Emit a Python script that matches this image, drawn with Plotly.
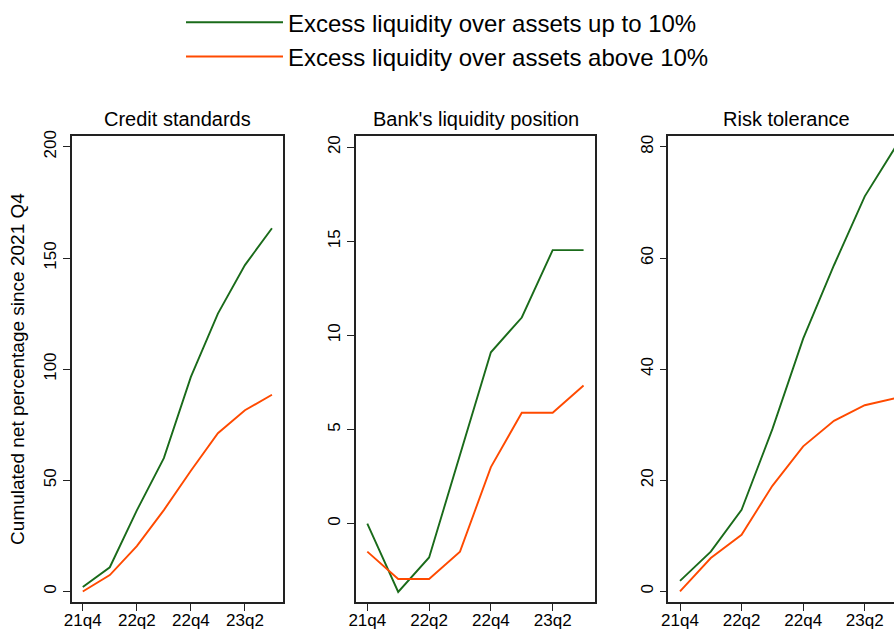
import plotly.graph_objects as go

quarters = ["21q4", "22q1", "22q2", "22q3", "22q4", "23q1", "23q2", "23q3"]
tick_quarters = ["21q4", "22q2", "22q4", "23q2"]

panel_titles = ["Credit standards", "Bank's liquidity position", "Risk tolerance"]
series_names = ["Excess liquidity over assets up to 10%",
                "Excess liquidity over assets above 10%"]

# Credit standards
credit_low = [2.0, 10.9, 36.5, 60.0, 96.5, 125.0, 146.8, 163.4]
credit_high = [0.0, 7.4, 20.4, 36.6, 54.3, 71.2, 81.5, 88.5]
# Bank's liquidity position
liq_low = [0.0, -3.63, -1.8, 3.6, 9.1, 10.95, 14.53, 14.53]
liq_high = [-1.49, -2.94, -2.94, -1.49, 3.0, 5.89, 5.89, 7.34]
# Risk tolerance
risk_low = [1.9, 7.15, 14.7, 29.2, 45.5, 58.7, 71.1, 80.0]
risk_high = [0.0, 6.0, 10.2, 19.0, 26.1, 30.7, 33.5, 34.8]

y_ticks = [[0, 50, 100, 150, 200], [0, 5, 10, 15, 20], [0, 20, 40, 60, 80]]

GREEN = "#1a6b1a"
ORANGE = "#ff4a00"
FONT = "Liberation Sans, Arial, sans-serif"
W, H = 894, 636

fig = go.Figure()

panels = [(credit_low, credit_high), (liq_low, liq_high), (risk_low, risk_high)]
for i, (low, high) in enumerate(panels):
    ax = "" if i == 0 else str(i + 1)
    fig.add_trace(go.Scatter(x=quarters, y=low, mode="lines", name=series_names[0],
                             line=dict(color=GREEN, width=1.9), legendgroup="g",
                             showlegend=(i == 0), xaxis="x" + ax, yaxis="y" + ax))
    fig.add_trace(go.Scatter(x=quarters, y=high, mode="lines", name=series_names[1],
                             line=dict(color=ORANGE, width=1.9), legendgroup="g",
                             showlegend=(i == 0), xaxis="x" + ax, yaxis="y" + ax))

# pixel geometry of the three panels
x_doms = [(71.7, 283.3), (356, 595), (668.3, 894)]
x_ranges = [(-0.41, 7.42), (-0.366, 7.37), (-0.38, 6.95)]
y_ranges = [(-4.86, 205.1), (-4.18, 20.62), (-1.96, 82.05)]
y_dom = [(H - 601.7) / H, (H - 126.7) / H]

axis_style = dict(showline=True, linecolor="#222", linewidth=1.5, ticks="outside",
                  ticklen=7, tickwidth=1.3, tickcolor="#222", showgrid=False,
                  zeroline=False, automargin=False,
                  tickfont=dict(family=FONT, size=17, color="black"))

for i in range(3):
    ax = "" if i == 0 else str(i + 1)
    fig.layout["xaxis" + ax] = dict(
        axis_style, domain=[x_doms[i][0] / W, x_doms[i][1] / W], anchor="y" + ax,
        range=list(x_ranges[i]), tickvals=tick_quarters, mirror=True,
        categoryorder="array", categoryarray=quarters, ticklabelstandoff=-5)
    fig.layout["yaxis" + ax] = dict(
        axis_style, domain=y_dom, anchor="x" + ax, range=list(y_ranges[i]),
        tickvals=y_ticks[i], tickangle=-90, mirror=(i < 2))
    cx = (x_doms[i][0] + x_doms[i][1]) / 2 if i < 2 else 786
    fig.add_annotation(text=panel_titles[i], x=cx / W, y=(H - 110) / H,
                       xref="paper", yref="paper", showarrow=False,
                       xanchor="center", yanchor="middle",
                       font=dict(family=FONT, size=20, color="black"))

fig.add_annotation(text="Cumulated net percentage since 2021 Q4", textangle=-90,
                   x=18 / W, y=(y_dom[0] + y_dom[1]) / 2, xref="paper", yref="paper",
                   showarrow=False, xanchor="center", yanchor="middle",
                   font=dict(family=FONT, size=19, color="black"))

fig.update_layout(
    width=W, height=H,
    margin=dict(l=0, r=0, t=0, b=0),
    paper_bgcolor="white", plot_bgcolor="white",
    showlegend=True,
    legend=dict(x=181 / W, y=1.0 + 11 / H, xanchor="left", yanchor="top",
                font=dict(family=FONT, size=24, color="black"),
                itemwidth=97, tracegroupgap=0, bgcolor="rgba(0,0,0,0)"),
)

fig.write_html("out.html", config={"displayModeBar": False},
               post_script="document.body.style.margin='0';"
                           "document.body.style.overflow='hidden';")
